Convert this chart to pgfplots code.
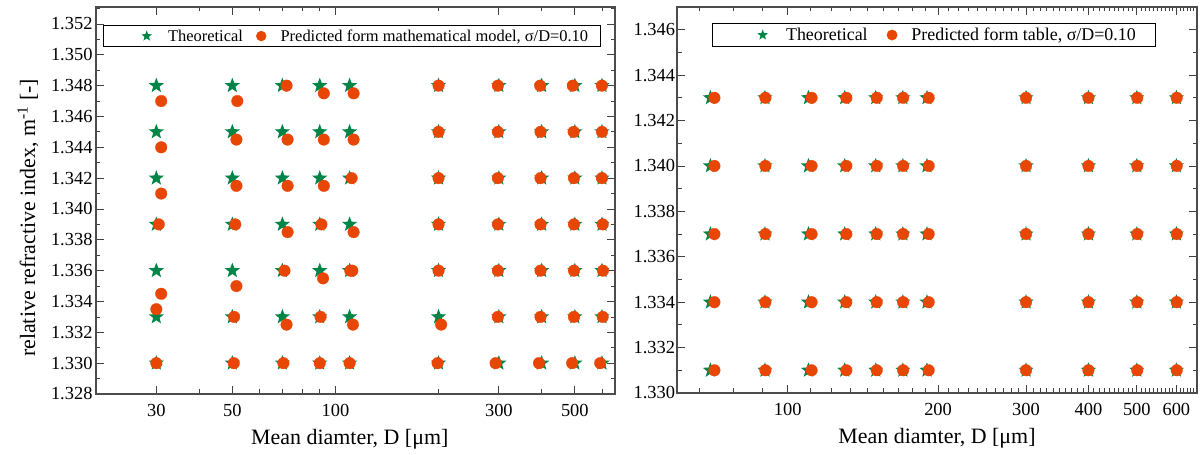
\documentclass[border=0pt]{standalone}
\usepackage{fontspec}
\setmainfont{Liberation Serif}
\usepackage{pgfplots}
\pgfplotsset{compat=1.18}
\definecolor{thgreen}{RGB}{0,133,72}
\definecolor{predred}{RGB}{232,70,5}
\pgfdeclareplotmark{fstar}{%
  \pgfpathmoveto{\pgfpointpolar{90}{\pgfplotmarksize}}%
  \pgfpathlineto{\pgfpointpolar{126}{0.42\pgfplotmarksize}}%
  \pgfpathlineto{\pgfpointpolar{162}{\pgfplotmarksize}}%
  \pgfpathlineto{\pgfpointpolar{198}{0.42\pgfplotmarksize}}%
  \pgfpathlineto{\pgfpointpolar{234}{\pgfplotmarksize}}%
  \pgfpathlineto{\pgfpointpolar{270}{0.42\pgfplotmarksize}}%
  \pgfpathlineto{\pgfpointpolar{306}{\pgfplotmarksize}}%
  \pgfpathlineto{\pgfpointpolar{342}{0.42\pgfplotmarksize}}%
  \pgfpathlineto{\pgfpointpolar{18}{\pgfplotmarksize}}%
  \pgfpathlineto{\pgfpointpolar{54}{0.42\pgfplotmarksize}}%
  \pgfpathclose
  \pgfusepathqfill
}
\begin{document}
\begin{tikzpicture}
\useasboundingbox (0,0) rectangle (1203bp,455bp);
% ---------------- left panel ----------------
\begin{axis}[
  scale only axis,
  xmode=log,
  scaled y ticks=false,
  axis line style={line width=1.1bp, black!70},
  every tick/.style={line width=0.8bp, black!75},
  major tick length=8bp, minor tick length=4.5bp,
  tick label style={font=\fontsize{18.5}{20}\selectfont},
  yticklabel style={/pgf/number format/fixed, /pgf/number format/fixed zerofill, /pgf/number format/precision=3, /pgf/number format/assume math mode=true},
  xticklabel style={yshift=-7bp},
  label style={font=\fontsize{22}{24}\selectfont},
  legend columns=2,
  at={(96bp,61bp)}, anchor=south west,
  width=519bp, height=387bp,
  xmin=20, xmax=655, ymin=1.328, ymax=1.3531,
  xtick={30,50,100,300,500}, xticklabels={30,50,100,300,500},
  minor xtick={40,60,70,80,90,200,400,600},
  ytick={1.328,1.330,1.332,1.334,1.336,1.338,1.340,1.342,1.344,1.346,1.348,1.350,1.352},
  minor ytick={1.329,1.331,1.333,1.335,1.337,1.339,1.341,1.343,1.345,1.347,1.349,1.351,1.353},
  xlabel={Mean diamter, D [μm]},
  ylabel={relative refractive index, m\textsuperscript{-1} [-]},
  xlabel style={at={(axis description cs:0.489,-0.116)}, anchor=center},
  ylabel style={at={(axis description cs:-0.131,0.455)}, anchor=center},
  legend style={at={(0.0135,0.9535)}, anchor=north west, draw=black, line width=0.7bp,
    inner xsep=7bp, inner ysep=4.2bp, nodes={inner sep=0bp},
    font=\fontsize{16.5}{18}\selectfont},
]
\addplot[only marks, mark=fstar, mark size=8bp, color=thgreen, mark options={fill=thgreen, draw=none},
  legend image code/.code={\path (-36bp,0bp) (21bp,0bp); \draw[only marks, mark=fstar, mark size=5.6bp, thgreen, mark options={fill=thgreen, draw=none}] plot coordinates {(0bp,0bp)};}] coordinates {
(30,1.330)(30,1.333)(30,1.336)(30,1.339)(30,1.342)(30,1.345)(30,1.348)
(50,1.330)(50,1.333)(50,1.336)(50,1.339)(50,1.342)(50,1.345)(50,1.348)
(70,1.330)(70,1.333)(70,1.336)(70,1.339)(70,1.342)(70,1.345)(70,1.348)
(90,1.330)(90,1.333)(90,1.336)(90,1.339)(90,1.342)(90,1.345)(90,1.348)
(110,1.330)(110,1.333)(110,1.336)(110,1.339)(110,1.342)(110,1.345)(110,1.348)
(200,1.330)(200,1.333)(200,1.336)(200,1.339)(200,1.342)(200,1.345)(200,1.348)
(300,1.330)(300,1.333)(300,1.336)(300,1.339)(300,1.342)(300,1.345)(300,1.348)
(400,1.330)(400,1.333)(400,1.336)(400,1.339)(400,1.342)(400,1.345)(400,1.348)
(500,1.330)(500,1.333)(500,1.336)(500,1.339)(500,1.342)(500,1.345)(500,1.348)
(600,1.330)(600,1.333)(600,1.336)(600,1.339)(600,1.342)(600,1.345)(600,1.348)
};
\addlegendentry{Theoretical}
\addplot[only marks, mark=*, mark size=5.8bp, color=predred, mark options={fill=predred, draw=predred, line width=0.3bp},
  legend image code/.code={\path (-18bp,0bp) (19bp,0bp); \draw[only marks, mark=*, mark size=5.0bp, predred, mark options={fill=predred, draw=predred, line width=0.3bp}] plot coordinates {(0bp,0bp)};}] coordinates {
(31,1.347)(31,1.344)(31,1.341)(30.5,1.339)(31,1.3345)(30,1.3335)(30,1.330)
(51.7,1.347)(51.4,1.3445)(51.4,1.3415)(51,1.339)(51.4,1.335)(50.6,1.333)(50.5,1.330)
(72,1.348)(72.5,1.3445)(72.5,1.3415)(72.5,1.3385)(71,1.336)(72,1.3325)(70.5,1.330)
(92.5,1.3475)(92.5,1.3445)(92.5,1.3415)(91,1.339)(92,1.3355)(90.5,1.333)(90,1.330)
(113,1.3475)(113,1.3445)(111.5,1.342)(113,1.3385)(110.5,1.336)(112,1.336)(112.5,1.3325)(110,1.330)
(200,1.348)(200,1.345)(200,1.342)(200,1.339)(200,1.336)(203.5,1.3325)(198.7,1.330)
(298,1.348)(298,1.345)(298,1.342)(298,1.339)(298,1.336)(298,1.333)(293.5,1.330)
(396,1.348)(397,1.345)(397,1.342)(397,1.339)(397,1.336)(397,1.333)(393,1.330)
(493,1.348)(496,1.345)(497,1.342)(497,1.339)(497,1.336)(497,1.333)(491,1.330)
(600,1.348)(600,1.345)(600,1.342)(603,1.339)(604,1.336)(603,1.333)(593,1.330)
};
\addlegendentry{Predicted form mathematical model, σ/D=0.10\rule{5bp}{0bp}}
\end{axis}
% ---------------- right panel ----------------
\begin{axis}[
  scale only axis,
  xmode=log,
  scaled y ticks=false,
  axis line style={line width=1.1bp, black!70},
  every tick/.style={line width=0.8bp, black!75},
  major tick length=8bp, minor tick length=4.5bp,
  tick label style={font=\fontsize{18.5}{20}\selectfont},
  yticklabel style={/pgf/number format/fixed, /pgf/number format/fixed zerofill, /pgf/number format/precision=3, /pgf/number format/assume math mode=true, xshift=1.6bp},
  xticklabel style={yshift=-7bp},
  label style={font=\fontsize{22}{24}\selectfont},
  legend columns=2,
  at={(677bp,62bp)}, anchor=south west,
  width=520bp, height=386bp,
  xmin=60, xmax=660, ymin=1.330, ymax=1.347,
  xtick={100,200,300,400,500,600}, xticklabels={100,200,300,400,500,600},
  minor xtick={66.67,77.78,88.89,111.1,122.2,133.3,144.4,155.6,166.7,177.8,188.9,
    210,220,230,240,250,260,270,280,290,310,320,330,340,350,360,370,380,390,
    410,420,430,440,450,460,470,480,490,510,520,530,540,550,560,570,580,590,610,620,630,640,650},
  ytick={1.330,1.332,1.334,1.336,1.338,1.340,1.342,1.344,1.346},
  minor ytick={1.331,1.333,1.335,1.337,1.339,1.341,1.343,1.345},
  xlabel={Mean diamter, D [μm]},
  xlabel style={at={(axis description cs:0.5,-0.116)}, anchor=center},
  legend style={at={(0.0673,0.9585)}, anchor=north west, draw=black, line width=0.7bp,
    inner xsep=7bp, inner ysep=4.6bp, nodes={inner sep=0bp},
    font=\fontsize{18}{20}\selectfont},
]
\addplot[only marks, mark=fstar, mark size=8bp, color=thgreen, mark options={fill=thgreen, draw=none},
  legend image code/.code={\path (-43bp,0bp) (23bp,0bp); \draw[only marks, mark=fstar, mark size=5.6bp, thgreen, mark options={fill=thgreen, draw=none}] plot coordinates {(0bp,0bp)};}] coordinates {
(70,1.331)(70,1.334)(70,1.337)(70,1.340)(70,1.343)
(90,1.331)(90,1.334)(90,1.337)(90,1.340)(90,1.343)
(110,1.331)(110,1.334)(110,1.337)(110,1.340)(110,1.343)
(130,1.331)(130,1.334)(130,1.337)(130,1.340)(130,1.343)
(150,1.331)(150,1.334)(150,1.337)(150,1.340)(150,1.343)
(170,1.331)(170,1.334)(170,1.337)(170,1.340)(170,1.343)
(190,1.331)(190,1.334)(190,1.337)(190,1.340)(190,1.343)
(300,1.331)(300,1.334)(300,1.337)(300,1.340)(300,1.343)
(400,1.331)(400,1.334)(400,1.337)(400,1.340)(400,1.343)
(500,1.331)(500,1.334)(500,1.337)(500,1.340)(500,1.343)
(600,1.331)(600,1.334)(600,1.337)(600,1.340)(600,1.343)
};
\addlegendentry{Theoretical}
\addplot[only marks, mark=*, mark size=5.8bp, color=predred, mark options={fill=predred, draw=predred, line width=0.3bp},
  legend image code/.code={\path (-24bp,0bp) (19bp,0bp); \draw[only marks, mark=*, mark size=5.2bp, predred, mark options={fill=predred, draw=predred, line width=0.3bp}] plot coordinates {(0bp,0bp)};}] coordinates {
(71.3,1.331)(71.3,1.334)(71.3,1.337)(71.3,1.340)(71.3,1.343)
(90.2,1.331)(90.2,1.334)(90.2,1.337)(90.2,1.340)(90.2,1.343)
(111.6,1.331)(111.6,1.334)(111.6,1.337)(111.6,1.340)(111.6,1.343)
(131,1.331)(131,1.334)(131,1.337)(131,1.340)(131,1.343)
(150.7,1.331)(150.7,1.334)(150.7,1.337)(150.7,1.340)(150.7,1.343)
(170.2,1.331)(170.2,1.334)(170.2,1.337)(170.2,1.340)(170.2,1.343)
(191.5,1.331)(191.5,1.334)(191.5,1.337)(191.5,1.340)(191.5,1.343)
(300,1.331)(300,1.334)(300,1.337)(300,1.340)(300,1.343)
(400,1.331)(400,1.334)(400,1.337)(400,1.340)(400,1.343)
(501,1.331)(501,1.334)(501,1.337)(501,1.340)(501,1.343)
(601,1.331)(601,1.334)(601,1.337)(601,1.340)(601,1.343)
};
\addlegendentry{Predicted form table, σ/D=0.10\rule{12bp}{0bp}}
\end{axis}
\end{tikzpicture}
\end{document}
